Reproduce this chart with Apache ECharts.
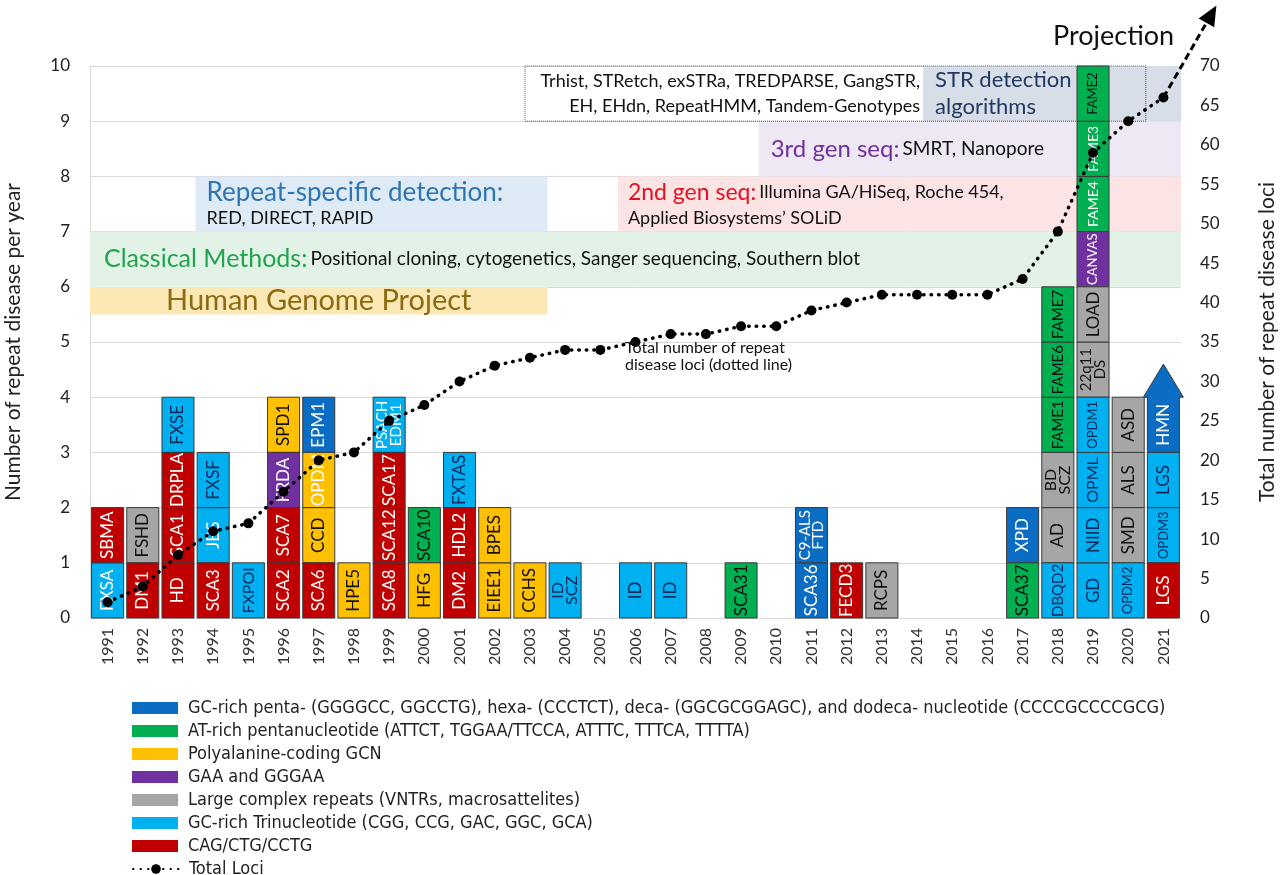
<!DOCTYPE html>
<html>
<head>
<meta charset="utf-8">
<script src="https://cdn.jsdelivr.net/npm/echarts@6/dist/echarts.min.js"></script>
<style>
  html, body { margin: 0; padding: 0; background: #fff; }
  #main { width: 1280px; height: 875px; }
</style>
</head>
<body>
<div id="main"></div>
<script>
// years on the x axis
const years = ['1991', '1992', '1993', '1994', '1995', '1996', '1997', '1998', '1999', '2000',
  '2001', '2002', '2003', '2004', '2005', '2006', '2007', '2008', '2009', '2010',
  '2011', '2012', '2013', '2014', '2015', '2016', '2017', '2018', '2019', '2020', '2021']

// cumulative number of repeat disease loci (right axis)
const totalLoci = [2, 4, 8, 11, 12, 16, 20, 21, 25, 27, 30, 32, 33, 34, 34, 35, 36, 36, 37, 37,
  39, 40, 41, 41, 41, 41, 43, 49, 59, 63, 66]

// boxes: [year, stack slot (0 = bottom), disease]
const pentaBoxes = [['1997', 3, 'EPM1'], ['2011', 0, 'SCA36'], ['2011', 1, 'C9-ALS\nFTD'],
  ['2017', 1, 'XPD'], ['2021', 3, 'HMN']]
const atRichBoxes = [['2000', 1, 'SCA10'], ['2009', 0, 'SCA31'], ['2017', 0, 'SCA37'],
  ['2018', 3, 'FAME1'], ['2018', 4, 'FAME6'], ['2018', 5, 'FAME7'],
  ['2019', 7, 'FAME4'], ['2019', 8, 'FAME3'], ['2019', 9, 'FAME2']]
const polyAlaBoxes = [['1996', 3, 'SPD1'], ['1997', 1, 'CCD'], ['1997', 2, 'OPDM'], ['1998', 0, 'HPE5'],
  ['2000', 0, 'HFG'], ['2002', 0, 'EIEE1'], ['2002', 1, 'BPES'], ['2003', 0, 'CCHS']]
const gaaBoxes = [['1996', 2, 'FRDA'], ['2019', 6, 'CANVAS']]
const largeBoxes = [['1992', 1, 'FSHD'], ['2013', 0, 'RCPS'], ['2018', 1, 'AD'], ['2018', 2, 'BD\nSCZ'],
  ['2019', 4, '22q11\nDS'], ['2019', 5, 'LOAD'], ['2020', 1, 'SMD'], ['2020', 2, 'ALS'], ['2020', 3, 'ASD']]
const triBoxes = [['1991', 0, 'FXSA'], ['1993', 3, 'FXSE'], ['1994', 1, 'JBS'], ['1994', 2, 'FXSF'],
  ['1995', 0, 'FXPOI'], ['1999', 3, 'PSACH\nEDM1'], ['2001', 2, 'FXTAS'], ['2004', 0, 'ID\nSCZ'],
  ['2006', 0, 'ID'], ['2007', 0, 'ID'], ['2018', 0, 'DBQD2'], ['2019', 0, 'GD'], ['2019', 1, 'NIID'],
  ['2019', 2, 'OPML'], ['2019', 3, 'OPDM1'], ['2020', 0, 'OPDM2'], ['2021', 1, 'OPDM3'], ['2021', 2, 'LGS']]
const cagBoxes = [['1991', 1, 'SBMA'], ['1992', 0, 'DM1'], ['1993', 0, 'HD'], ['1993', 1, 'SCA1'],
  ['1993', 2, 'DRPLA'], ['1994', 0, 'SCA3'], ['1996', 0, 'SCA2'], ['1996', 1, 'SCA7'], ['1997', 0, 'SCA6'],
  ['1999', 0, 'SCA8'], ['1999', 1, 'SCA12'], ['1999', 2, 'SCA17'], ['2001', 0, 'DM2'], ['2001', 1, 'HDL2'],
  ['2012', 0, 'FECD3'], ['2021', 0, 'LGS']]

// technology eras: [from year, to year, bottom, top]
const eraHGP = [1990.5, 2003.5, 5.5, 6]
const eraClassical = [1990.5, 2021.5, 6, 7]
const eraRepeat = [1993.5, 2003.5, 7, 8]
const eraSecond = [2005.5, 2021.5, 7, 8]
const eraThird = [2009.5, 2021.5, 8, 9]
const eraSTR = [2014.17, 2021.5, 9, 10]
const strToolsBox = [2002.86, 2020.5, 9, 10]

const FONT = 'Lato, "Open Sans", sans-serif'
const NARROW = '"Liberation Sans Narrow", "DejaVu Sans Condensed", sans-serif'

const catStyle = {
  penta: { color: '#0A6CC2', text: '#ffffff' },
  at: { color: '#00B050', text: '#111111' },
  polyAla: { color: '#FFC000', text: '#111111' },
  gaa: { color: '#7030A0', text: '#ffffff' },
  large: { color: '#A6A6A6', text: '#111111' },
  tri: { color: '#00B0F0', text: '#0D2A5C' },
  cag: { color: '#C00000', text: '#ffffff' }
}
// labels drawn in white / smaller font
const whiteLabels = ['FXSA', 'JBS', 'PSACH\nEDM1', 'OPDM', 'FAME3', 'FAME4']
const labelSize = {
  OPDM1: 13, OPDM2: 13, OPDM3: 13, CANVAS: 13, FAME2: 13, FAME3: 14, FAME4: 14,
  FAME1: 15, FAME6: 15, FAME7: 15, DBQD2: 15, 'PSACH\nEDM1': 15, 'C9-ALS\nFTD': 15,
  '22q11\nDS': 15, 'BD\nSCZ': 16, 'ID\nSCZ': 16, OPML: 16, FXPOI: 16
}
const arrowLabels = ['HMN']

const groups = [
  { key: 'penta', list: pentaBoxes, name: 'GC-rich penta- (GGGGCC, GGCCTG), hexa- (CCCTCT), deca- (GGCGCGGAGC), and dodeca- nucleotide (CCCCGCCCCGCG)' },
  { key: 'at', list: atRichBoxes, name: 'AT-rich pentanucleotide (ATTCT, TGGAA/TTCCA, ATTTC, TTTCA, TTTTA)' },
  { key: 'polyAla', list: polyAlaBoxes, name: 'Polyalanine-coding GCN' },
  { key: 'gaa', list: gaaBoxes, name: 'GAA and GGGAA' },
  { key: 'large', list: largeBoxes, name: 'Large complex repeats (VNTRs, macrosattelites)' },
  { key: 'tri', list: triBoxes, name: 'GC-rich Trinucleotide (CGG, CCG, GAC, GGC, GCA)' },
  { key: 'cag', list: cagBoxes, name: 'CAG/CTG/CCTG' }
]

const chart = echarts.init(document.getElementById('main'))

function makeRender(list, key) {
  const st = catStyle[key]
  return function(params, api) {
    const label = list[params.dataIndex][2]
    const xi = api.value(0)
    const lv = api.value(1)
    const p0 = api.coord([xi, lv])
    const p1 = api.coord([xi, lv + 1])
    const bw = api.size([1, 0])[0] * 0.91
    const children = []
    const boxStyle = { fill: st.color, stroke: '#3a3a3a', lineWidth: 1 }
    if (arrowLabels.includes(label)) {
      // block arrow pointing up
      const tip = api.coord([xi, lv + 1.6])
      const hw = bw * 1.25
      children.push({
        type: 'polygon',
        shape: { points: [
          [p0[0] - bw / 2, p0[1]], [p0[0] - bw / 2, p1[1]], [p0[0] - hw / 2, p1[1]],
          [p0[0], tip[1]], [p0[0] + hw / 2, p1[1]], [p0[0] + bw / 2, p1[1]], [p0[0] + bw / 2, p0[1]]
        ] },
        style: boxStyle
      })
    } else {
      children.push({
        type: 'rect',
        shape: { x: p0[0] - bw / 2, y: p1[1], width: bw, height: p0[1] - p1[1] },
        style: boxStyle
      })
    }
    const fs = labelSize[label] || 17
    children.push({
      type: 'text',
      x: p0[0],
      y: (p0[1] + p1[1]) / 2,
      rotation: Math.PI / 2,
      style: {
        text: label,
        fill: whiteLabels.includes(label) ? '#ffffff' : st.text,
        fontSize: fs,
        fontFamily: FONT,
        lineHeight: fs * 0.9,
        align: 'center',
        verticalAlign: 'middle'
      }
    })
    return { type: 'group', children }
  }
}

function era(range, color, label) {
  return [
    { xAxis: range[0], yAxis: range[2], itemStyle: { color }, label },
    { xAxis: range[1], yAxis: range[3] }
  ]
}
const sub = { fontSize: 18, color: '#111', fontFamily: FONT }

const eraAreas = [
  era(eraHGP, '#FCE8B5', {
    show: true, position: 'inside', formatter: 'Human Genome Project',
    fontSize: 29, color: '#8C6A12', fontFamily: FONT
  }),
  era(eraClassical, '#E3F2E7', {
    show: true, position: 'insideLeft', distance: 14,
    formatter: '{t|Classical Methods:} {s|Positional cloning, cytogenetics, Sanger sequencing, Southern blot}',
    rich: { t: { fontSize: 25, color: '#1FA44C', fontFamily: FONT }, s: { ...sub, fontSize: 19 } }
  }),
  era(eraRepeat, '#DEEAF6', {
    show: true, position: 'insideLeft', distance: 11,
    formatter: '{t|Repeat-specific detection:}\n{s|RED, DIRECT, RAPID}',
    rich: { t: { fontSize: 26, color: '#2E75B6', fontFamily: FONT, lineHeight: 29 }, s: { ...sub, lineHeight: 22 } }
  }),
  era(eraSecond, '#FCE4E4', {
    show: true, position: 'insideLeft', distance: 10,
    formatter: '{t|2nd gen seq:} {s|Illumina GA/HiSeq, Roche 454,}\n{s|Applied Biosystems’ SOLiD}',
    rich: { t: { fontSize: 23, color: '#E8101F', fontFamily: FONT, lineHeight: 28 }, s: { ...sub, lineHeight: 23 } }
  }),
  era(eraThird, '#EEE7F4', {
    show: true, position: 'insideLeft', distance: 12,
    formatter: '{t|3rd gen seq:} {s|SMRT, Nanopore}',
    rich: { t: { fontSize: 24, color: '#7030A0', fontFamily: FONT }, s: { ...sub, fontSize: 19 } }
  }),
  era(eraSTR, '#D8DEE8', {
    show: true, position: 'insideLeft', distance: 12,
    formatter: 'STR detection\nalgorithms',
    fontSize: 22, lineHeight: 27, color: '#1F3864', fontFamily: FONT
  }),
  era([strToolsBox[0], eraSTR[0], 9, 10], 'rgba(0,0,0,0)', {
    show: true, position: 'insideRight', distance: 3,
    formatter: 'Trhist, STRetch, exSTRa, TREDPARSE, GangSTR,\nEH, EHdn, RepeatHMM, Tandem-Genotypes',
    fontSize: 18, lineHeight: 25, color: '#111', fontFamily: FONT
  }),
  [
    { xAxis: strToolsBox[0], yAxis: strToolsBox[2],
      itemStyle: { color: 'rgba(0,0,0,0)', borderColor: '#555', borderWidth: 1, borderType: 'dotted' } },
    { xAxis: strToolsBox[1], yAxis: strToolsBox[3] }
  ]
]

const series = groups.map(g => ({
  name: g.name,
  type: 'custom',
  xAxisIndex: 0,
  yAxisIndex: 0,
  z: 3,
  itemStyle: { color: catStyle[g.key].color },
  encode: { x: 0, y: 1 },
  data: g.list.map(d => [d[0], d[1]]),
  renderItem: makeRender(g.list, g.key)
}))

series.push({
  name: 'Total Loci',
  type: 'line',
  xAxisIndex: 0,
  yAxisIndex: 1,
  z: 5,
  data: totalLoci,
  symbol: 'circle',
  symbolSize: 10,
  itemStyle: { color: '#000' },
  lineStyle: { color: '#000', width: 3.5, type: [0.5, 7], cap: 'round' }
})

series.push({
  name: 'eras',
  type: 'line',
  xAxisIndex: 1,
  yAxisIndex: 0,
  z: 1,
  silent: true,
  data: [],
  markArea: { silent: true, data: eraAreas }
})

const legendBase = {
  orient: 'vertical',
  left: 132,
  padding: 0,
  itemWidth: 46,
  itemHeight: 12,
  itemGap: 5,
  textStyle: { fontSize: 18, lineHeight: 18, color: '#222', fontFamily: NARROW, padding: [0, 0, 0, 5] }
}

chart.setOption({
  animation: false,
  textStyle: { fontFamily: FONT },
  grid: { left: 90, right: 99, top: 66, bottom: 257, outerBoundsMode: 'none' },
  legend: [
    { ...legendBase, top: 699, data: groups.map(g => ({ name: g.name, icon: 'rect' })) },
    { ...legendBase, top: 860, data: ['Total Loci'] }
  ],
  xAxis: [
    {
      type: 'category',
      data: years,
      axisTick: { show: false },
      axisLine: { lineStyle: { color: '#d9d9d9' } },
      axisLabel: { rotate: 90, fontSize: 16, color: '#333', margin: 10, fontFamily: FONT }
    },
    { type: 'value', min: 1990.5, max: 2021.5, show: false }
  ],
  yAxis: [
    {
      type: 'value',
      min: 0,
      max: 10,
      interval: 1,
      name: 'Number of repeat disease per year',
      nameLocation: 'middle',
      nameRotate: 90,
      nameGap: 66,
      nameTextStyle: { fontSize: 21, color: '#222', fontFamily: FONT },
      axisLine: { show: true, lineStyle: { color: '#d9d9d9' } },
      axisTick: { show: false },
      axisLabel: { fontSize: 17, color: '#222', margin: 20 },
      splitLine: { lineStyle: { color: '#d9d9d9' } }
    },
    {
      type: 'value',
      min: 0,
      max: 70,
      interval: 5,
      name: 'Total number of repeat disease loci',
      nameLocation: 'middle',
      nameRotate: 90,
      nameGap: 76,
      nameTextStyle: { fontSize: 21, color: '#222', fontFamily: FONT },
      axisLine: { show: false },
      axisTick: { show: false },
      axisLabel: { fontSize: 17, color: '#222', margin: 19 },
      splitLine: { show: false }
    }
  ],
  series
})

// projection arrow from the last total point, plus notes
const last = chart.convertToPixel({ seriesIndex: groups.length }, [totalLoci.length - 1, totalLoci[totalLoci.length - 1]])
const end = [last[0] + 53, last[1] - 92]
const len = Math.hypot(end[0] - last[0], end[1] - last[1])
const ux = (end[0] - last[0]) / len
const uy = (end[1] - last[1]) / len
const base = [end[0] - ux * 20, end[1] - uy * 20]
chart.setOption({
  graphic: [
    {
      type: 'line',
      z: 10,
      shape: { x1: last[0], y1: last[1], x2: base[0], y2: base[1] },
      style: { stroke: '#000', lineWidth: 3, lineDash: [7, 4] }
    },
    {
      type: 'polygon',
      z: 10,
      shape: { points: [end, [base[0] - uy * 9, base[1] + ux * 9], [base[0] + uy * 9, base[1] - ux * 9]] },
      style: { fill: '#000' }
    },
    {
      type: 'text',
      left: 1053,
      top: 23,
      style: { text: 'Projection', fontSize: 27, fill: '#111', fontFamily: FONT }
    },
    {
      type: 'text',
      left: 625,
      top: 339,
      z: 10,
      style: { text: 'Total number of repeat\ndisease loci (dotted line)', fontSize: 16, lineHeight: 17, fill: '#111', fontFamily: FONT }
    }
  ]
})
</script>
</body>
</html>
